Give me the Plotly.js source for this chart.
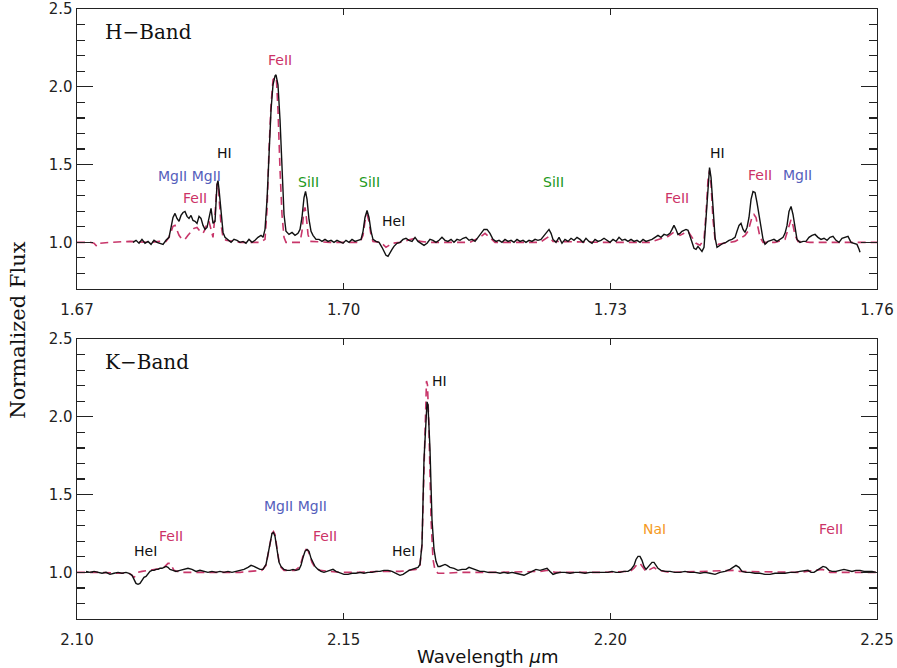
<!DOCTYPE html>
<html>
<head>
<meta charset="utf-8">
<script src="https://cdn.plot.ly/plotly-3.0.1.min.js"></script>
<style>html,body{margin:0;padding:0;background:#fff;} #chart{width:897px;height:668px;}</style>
</head>
<body>
<div id="chart"></div>
<script>
// ---------------- H-band observed spectrum ----------------
const hObsWave = [1.67630,1.67664,1.67698,1.67731,1.67765,1.67799,1.67833,1.67866,1.67900,1.67934,1.67968,1.68001,1.68035,1.68058,1.68080,1.68103,1.68125,1.68148,1.68170,1.68193,1.68215,1.68238,1.68260,1.68283,1.68305,1.68328,1.68350,1.68373,1.68395,1.68418,1.68440,1.68463,1.68485,1.68508,1.68530,1.68553,1.68575,1.68586,1.68598,1.68620,1.68643,1.68665,1.68699,1.68733,1.68766,1.68800,1.68834,1.68868,1.68901,1.68935,1.68969,1.69003,1.69036,1.69070,1.69093,1.69115,1.69138,1.69160,1.69183,1.69205,1.69228,1.69239,1.69261,1.69284,1.69306,1.69329,1.69351,1.69385,1.69419,1.69453,1.69486,1.69509,1.69531,1.69554,1.69571,1.69588,1.69610,1.69633,1.69655,1.69689,1.69723,1.69756,1.69790,1.69824,1.69858,1.69891,1.69925,1.69959,1.69993,1.70026,1.70060,1.70094,1.70128,1.70161,1.70195,1.70218,1.70240,1.70263,1.70285,1.70308,1.70330,1.70364,1.70398,1.70431,1.70454,1.70476,1.70499,1.70521,1.70544,1.70566,1.70600,1.70634,1.70668,1.70701,1.70735,1.70769,1.70803,1.70836,1.70870,1.70904,1.70938,1.70971,1.71005,1.71039,1.71073,1.71106,1.71140,1.71174,1.71208,1.71241,1.71275,1.71309,1.71343,1.71376,1.71410,1.71444,1.71478,1.71511,1.71545,1.71579,1.71613,1.71646,1.71680,1.71714,1.71748,1.71781,1.71815,1.71849,1.71883,1.71916,1.71950,1.71984,1.72018,1.72051,1.72085,1.72119,1.72153,1.72186,1.72220,1.72254,1.72288,1.72310,1.72333,1.72355,1.72389,1.72423,1.72456,1.72490,1.72524,1.72558,1.72591,1.72625,1.72659,1.72693,1.72726,1.72760,1.72794,1.72828,1.72861,1.72895,1.72929,1.72963,1.72996,1.73030,1.73064,1.73098,1.73131,1.73165,1.73199,1.73233,1.73266,1.73300,1.73334,1.73368,1.73401,1.73435,1.73469,1.73503,1.73536,1.73570,1.73604,1.73638,1.73671,1.73694,1.73716,1.73739,1.73761,1.73784,1.73806,1.73829,1.73851,1.73874,1.73896,1.73919,1.73941,1.73964,1.73986,1.74009,1.74031,1.74054,1.74076,1.74099,1.74116,1.74133,1.74155,1.74178,1.74200,1.74234,1.74268,1.74301,1.74335,1.74369,1.74403,1.74425,1.74448,1.74470,1.74493,1.74515,1.74538,1.74560,1.74583,1.74605,1.74628,1.74650,1.74673,1.74695,1.74718,1.74740,1.74774,1.74808,1.74841,1.74875,1.74909,1.74943,1.74965,1.74988,1.75010,1.75033,1.75055,1.75078,1.75100,1.75134,1.75168,1.75201,1.75235,1.75269,1.75303,1.75336,1.75370,1.75404,1.75438,1.75471,1.75505,1.75539,1.75573,1.75606,1.75640,1.75674,1.75708,1.75741,1.75775,1.75798,1.75809];
const hObsFlux = [1.000,1.013,0.994,1.019,0.994,1.006,0.987,1.013,1.000,0.994,0.987,1.013,1.032,1.096,1.160,1.186,1.154,1.135,1.173,1.192,1.199,1.167,1.154,1.173,1.141,1.135,1.122,1.167,1.154,1.109,1.083,1.096,1.160,1.218,1.122,1.135,1.372,1.397,1.340,1.199,1.064,1.032,1.013,1.000,1.019,1.013,1.000,1.006,0.994,1.019,1.000,1.013,1.032,1.045,1.032,1.083,1.276,1.596,1.853,2.013,2.071,2.077,2.013,1.788,1.468,1.179,1.071,1.051,1.064,1.045,1.058,1.083,1.160,1.288,1.327,1.276,1.147,1.071,1.045,1.019,1.019,1.006,1.019,1.006,1.013,1.000,1.013,1.006,0.994,1.013,1.000,1.019,1.006,1.013,1.019,1.071,1.160,1.205,1.160,1.071,1.019,1.006,1.000,0.968,0.942,0.917,0.910,0.936,0.955,0.974,0.994,1.000,1.019,1.026,1.013,1.006,1.032,1.006,0.994,0.981,0.994,1.019,1.013,1.000,1.013,1.032,1.013,1.006,1.019,1.000,1.019,1.013,1.026,1.032,1.013,1.019,1.006,1.032,1.064,1.083,1.083,1.058,1.019,1.006,1.013,1.000,1.019,1.006,1.013,1.000,1.019,1.006,1.013,1.000,1.013,1.006,1.019,1.013,1.019,1.045,1.071,1.083,1.058,1.019,1.000,1.032,0.994,1.019,1.006,1.026,1.013,1.032,1.019,1.000,1.026,1.006,0.994,1.019,1.006,1.013,1.026,1.013,1.000,1.019,1.006,1.032,1.013,1.019,1.006,1.019,1.006,1.013,1.000,1.019,1.006,1.013,1.019,1.032,1.045,1.032,1.051,1.045,1.058,1.083,1.109,1.083,1.051,1.058,1.071,1.077,1.083,1.077,1.045,1.000,0.962,0.955,0.974,0.955,0.942,0.968,1.135,1.372,1.481,1.417,1.212,1.032,0.968,0.981,0.994,1.000,1.013,1.019,1.032,1.071,1.109,1.122,1.083,1.064,1.096,1.160,1.276,1.327,1.321,1.256,1.179,1.096,1.019,0.987,1.006,1.013,1.019,1.006,1.019,1.032,1.058,1.109,1.199,1.231,1.179,1.083,1.019,1.000,1.006,1.006,1.032,1.045,1.051,1.032,1.019,1.026,1.013,1.032,1.038,1.013,1.000,1.026,1.032,1.038,1.000,0.994,0.987,0.955,0.936];

// ---------------- H-band model spectrum ----------------
const hModWave = [1.67000,1.67146,1.67191,1.67225,1.67259,1.67371,1.67596,1.67821,1.67934,1.68001,1.68035,1.68058,1.68080,1.68103,1.68125,1.68148,1.68181,1.68215,1.68249,1.68283,1.68316,1.68350,1.68384,1.68418,1.68440,1.68463,1.68485,1.68508,1.68530,1.68553,1.68575,1.68586,1.68598,1.68620,1.68643,1.68676,1.68834,1.69059,1.69115,1.69138,1.69160,1.69183,1.69205,1.69228,1.69244,1.69261,1.69284,1.69306,1.69329,1.69351,1.69509,1.69531,1.69554,1.69565,1.69576,1.69599,1.69621,1.69846,1.70184,1.70218,1.70240,1.70263,1.70285,1.70308,1.70330,1.70409,1.70443,1.70476,1.70510,1.70544,1.70634,1.70746,1.70803,1.70859,1.70971,1.71421,1.71534,1.71590,1.71646,1.71703,1.72209,1.72265,1.72310,1.72355,1.72884,1.73446,1.73559,1.73649,1.73728,1.73784,1.73829,1.73874,1.73919,1.73964,1.74009,1.74054,1.74076,1.74099,1.74116,1.74133,1.74155,1.74178,1.74211,1.74290,1.74403,1.74481,1.74515,1.74549,1.74571,1.74594,1.74616,1.74639,1.74661,1.74684,1.74718,1.74853,1.74965,1.74999,1.75021,1.75033,1.75055,1.75078,1.75111,1.75246,1.76000];
const hModFlux = [1.000,1.000,0.994,0.974,0.994,1.000,1.006,1.000,1.006,1.006,1.032,1.071,1.103,1.109,1.083,1.045,1.019,1.019,1.045,1.071,1.090,1.096,1.071,1.058,1.083,1.122,1.135,1.083,1.032,1.179,1.372,1.385,1.308,1.115,1.032,1.013,1.000,1.000,1.019,1.212,1.596,1.885,2.045,2.064,2.045,1.853,1.468,1.179,1.032,1.000,1.000,1.071,1.212,1.224,1.186,1.051,1.006,1.000,1.000,1.045,1.135,1.179,1.135,1.045,1.006,1.000,0.987,0.968,0.981,0.994,1.000,1.019,1.026,1.006,1.000,1.000,1.032,1.058,1.032,1.000,1.000,1.019,1.038,1.006,1.000,1.000,1.019,1.038,1.071,1.045,1.058,1.071,1.032,0.994,0.981,1.019,1.179,1.404,1.462,1.372,1.147,1.019,0.987,0.994,1.006,1.032,1.045,1.071,1.115,1.160,1.179,1.160,1.096,1.032,1.000,1.000,1.019,1.083,1.135,1.147,1.109,1.045,1.006,1.000,1.000];

// ---------------- K-band observed spectrum ----------------
const kObsWave = [2.10169,2.10244,2.10319,2.10394,2.10469,2.10544,2.10619,2.10694,2.10769,2.10844,2.10919,2.10975,2.11031,2.11069,2.11106,2.11144,2.11181,2.11219,2.11256,2.11294,2.11331,2.11369,2.11406,2.11444,2.11481,2.11519,2.11556,2.11594,2.11631,2.11669,2.11706,2.11744,2.11800,2.11856,2.11931,2.12006,2.12081,2.12156,2.12231,2.12306,2.12381,2.12456,2.12531,2.12606,2.12681,2.12756,2.12831,2.12906,2.12981,2.13056,2.13131,2.13206,2.13263,2.13319,2.13375,2.13431,2.13488,2.13544,2.13581,2.13619,2.13656,2.13684,2.13713,2.13750,2.13788,2.13825,2.13881,2.13938,2.13994,2.14050,2.14106,2.14163,2.14200,2.14238,2.14275,2.14313,2.14350,2.14388,2.14425,2.14463,2.14519,2.14575,2.14631,2.14688,2.14744,2.14800,2.14856,2.14931,2.15006,2.15081,2.15156,2.15231,2.15306,2.15381,2.15456,2.15531,2.15606,2.15681,2.15756,2.15831,2.15906,2.15981,2.16056,2.16113,2.16169,2.16225,2.16281,2.16338,2.16394,2.16431,2.16469,2.16506,2.16544,2.16563,2.16581,2.16619,2.16656,2.16694,2.16731,2.16769,2.16806,2.16863,2.16900,2.16938,2.16994,2.17069,2.17144,2.17219,2.17294,2.17350,2.17406,2.17481,2.17556,2.17631,2.17706,2.17781,2.17856,2.17931,2.18006,2.18081,2.18156,2.18231,2.18306,2.18381,2.18456,2.18531,2.18606,2.18681,2.18756,2.18813,2.18869,2.18925,2.18981,2.19056,2.19150,2.19244,2.19338,2.19431,2.19525,2.19619,2.19713,2.19806,2.19881,2.19956,2.20031,2.20106,2.20181,2.20256,2.20331,2.20388,2.20444,2.20481,2.20519,2.20556,2.20594,2.20631,2.20669,2.20706,2.20744,2.20781,2.20819,2.20856,2.20894,2.20950,2.21025,2.21119,2.21213,2.21306,2.21400,2.21494,2.21588,2.21681,2.21775,2.21869,2.21963,2.22056,2.22150,2.22244,2.22300,2.22356,2.22413,2.22469,2.22544,2.22619,2.22713,2.22806,2.22900,2.22994,2.23088,2.23181,2.23275,2.23369,2.23463,2.23556,2.23650,2.23706,2.23763,2.23819,2.23875,2.23931,2.23988,2.24044,2.24100,2.24156,2.24231,2.24306,2.24381,2.24456,2.24531,2.24606,2.24681,2.24756,2.24831,2.24906,2.24981];
const kObsFlux = [1.006,1.000,1.006,1.000,0.994,1.000,0.987,0.994,1.000,0.994,1.000,0.994,0.981,0.955,0.929,0.923,0.929,0.949,0.968,0.974,0.994,1.006,1.013,1.013,1.019,1.019,1.026,1.026,1.032,1.038,1.032,1.019,1.013,1.006,1.013,1.019,1.026,1.019,1.006,1.013,1.006,1.000,1.006,1.000,1.006,1.000,1.006,1.000,1.006,1.013,1.019,1.032,1.045,1.038,1.026,1.019,1.019,1.051,1.115,1.199,1.250,1.256,1.231,1.147,1.064,1.038,1.019,1.013,1.013,1.019,1.013,1.019,1.045,1.096,1.135,1.147,1.135,1.090,1.058,1.038,1.019,1.006,1.000,1.006,1.013,1.019,1.006,0.994,0.987,0.987,0.994,0.994,1.000,0.994,1.000,1.000,1.006,1.006,1.013,1.013,1.006,0.994,0.981,0.987,1.000,1.013,1.019,1.026,1.032,1.051,1.179,1.724,2.045,2.096,2.077,1.788,1.340,1.147,1.071,1.038,1.038,1.045,1.051,1.045,1.032,1.026,1.013,1.019,1.019,1.032,1.026,1.019,1.006,1.006,1.000,1.000,1.000,0.994,1.000,0.994,1.000,0.994,0.987,0.981,0.994,1.006,1.019,1.013,1.019,1.026,1.006,0.987,0.994,1.000,1.000,0.994,1.000,1.000,0.994,1.000,1.000,1.000,1.000,1.000,1.006,1.000,1.000,1.006,1.006,1.019,1.045,1.083,1.103,1.103,1.077,1.038,1.019,1.032,1.051,1.064,1.064,1.045,1.026,1.013,1.006,1.006,1.000,1.000,1.006,1.000,1.000,0.994,1.000,0.994,0.987,1.000,1.006,1.019,1.032,1.045,1.032,1.006,1.000,1.000,0.994,0.994,0.987,0.987,0.994,0.994,0.994,1.000,1.000,1.006,1.013,1.013,1.000,1.000,1.013,1.026,1.038,1.032,1.013,1.006,1.006,1.013,1.019,1.013,1.006,1.013,1.013,1.006,1.006,1.006,1.000];

// ---------------- K-band model spectrum ----------------
const kModWave = [2.10000,2.10431,2.10806,2.10956,2.11013,2.11069,2.11106,2.11144,2.11219,2.11369,2.11519,2.11613,2.11669,2.11706,2.11744,2.11781,2.11819,2.11931,2.12306,2.13056,2.13244,2.13469,2.13544,2.13581,2.13619,2.13656,2.13684,2.13713,2.13750,2.13788,2.13825,2.13881,2.14088,2.14181,2.14219,2.14256,2.14294,2.14331,2.14369,2.14406,2.14463,2.14556,2.14744,2.14931,2.15306,2.15681,2.16056,2.16244,2.16356,2.16431,2.16469,2.16506,2.16534,2.16553,2.16572,2.16600,2.16638,2.16675,2.16713,2.16769,2.16900,2.17181,2.17931,2.18681,2.18831,2.18963,2.19806,2.20369,2.20444,2.20500,2.20556,2.20613,2.20669,2.20744,2.20819,2.20894,2.21119,2.22338,2.22431,2.23556,2.23969,2.24044,2.24119,2.25000];
const kModFlux = [1.000,1.000,0.994,0.994,0.987,0.968,0.981,1.000,1.006,1.013,1.019,1.026,1.045,1.058,1.058,1.038,1.013,1.000,1.000,1.000,1.006,1.013,1.045,1.109,1.192,1.250,1.263,1.244,1.154,1.071,1.032,1.013,1.013,1.038,1.083,1.128,1.147,1.141,1.103,1.064,1.032,1.013,1.006,1.000,1.000,1.006,1.006,1.013,1.019,1.045,1.179,1.660,2.141,2.231,2.205,1.917,1.340,1.083,1.013,0.994,0.994,1.000,1.000,1.006,1.013,1.000,1.000,1.006,1.026,1.051,1.058,1.032,1.006,1.019,1.032,1.013,1.000,1.013,1.006,1.000,1.019,1.013,1.000,1.000];

// ---------------- Line identifications ----------------
const hLabelText = ["FeII","MgII MgII","FeII","HI","SiII","SiII","HeI","SiII","FeII","HI","FeII","MgII"];
const hLabelWave = [1.69284,1.68271,1.68328,1.68654,1.69599,1.70296,1.70555,1.72355,1.73750,1.74200,1.74684,1.75100];
const hLabelFlux = [2.173,1.429,1.282,1.577,1.385,1.385,1.135,1.385,1.282,1.577,1.436,1.436];
const hLabelIon  = ["Fe","Mg","Fe","H","Si","Si","He","Si","Fe","H","Fe","Mg"];

const kLabelText = ["HeI","FeII","MgII MgII","FeII","HeI","HI","NaI","FeII"];
const kLabelWave = [2.11275,2.11763,2.14088,2.14650,2.16113,2.16788,2.20819,2.24138];
const kLabelFlux = [1.135,1.231,1.429,1.231,1.135,2.231,1.282,1.282];
const kLabelIon  = ["He","Fe","Mg","Fe","He","H","Na","Fe"];

const hTicks = [1.67,1.70,1.73,1.76];
const kTicks = [2.10,2.15,2.20,2.25];
const yTicks = [1.0,1.5,2.0,2.5];

const ionColor = {Fe:"#cc3366", Mg:"#5560bc", Si:"#229922", H:"#111111", He:"#111111", Na:"#f59a24"};
const MODEL = "#c8366a";
const SANS = "DejaVu Sans, sans-serif";
const SERIF = "DejaVu Serif, serif";

const traces = [
  {x:hModWave, y:hModFlux, xaxis:"x", yaxis:"y", mode:"lines", line:{color:MODEL, width:1.6, dash:"8px,5px"}, hoverinfo:"skip"},
  {x:hObsWave, y:hObsFlux, xaxis:"x", yaxis:"y", mode:"lines", line:{color:"#111", width:1.4}, hoverinfo:"skip"},
  {x:kModWave, y:kModFlux, xaxis:"x2", yaxis:"y2", mode:"lines", line:{color:MODEL, width:1.6, dash:"8px,5px"}, hoverinfo:"skip"},
  {x:kObsWave, y:kObsFlux, xaxis:"x2", yaxis:"y2", mode:"lines", line:{color:"#111", width:1.4}, hoverinfo:"skip"}
];

const annotations = [];
hLabelText.forEach((t,i)=>annotations.push({x:hLabelWave[i], y:hLabelFlux[i], xref:"x", yref:"y", text:t, showarrow:false, xanchor:"center", yanchor:"middle", font:{family:SANS, size:14, color:ionColor[hLabelIon[i]]}}));
kLabelText.forEach((t,i)=>annotations.push({x:kLabelWave[i], y:kLabelFlux[i], xref:"x2", yref:"y2", text:t, showarrow:false, xanchor:"center", yanchor:"middle", font:{family:SANS, size:14, color:ionColor[kLabelIon[i]]}}));
annotations.push({x:0.0325, y:0.918, xref:"x domain", yref:"y domain", text:"H\u2212Band", showarrow:false, xanchor:"left", yanchor:"middle", font:{family:SERIF, size:20, color:"#111"}});
annotations.push({x:0.0325, y:0.919, xref:"x2 domain", yref:"y2 domain", text:"K\u2212Band", showarrow:false, xanchor:"left", yanchor:"middle", font:{family:SERIF, size:20, color:"#111"}});
annotations.push({x:-0.074, y:0.474, xref:"paper", yref:"paper", text:"Normalized Flux", textangle:-90, showarrow:false, xanchor:"center", yanchor:"middle", font:{family:SERIF, size:21, color:"#111"}});
annotations.push({x:0.514, y:-0.062, xref:"paper", yref:"paper", text:"Wavelength <i>\u03bc</i>m", showarrow:false, xanchor:"center", yanchor:"middle", font:{family:SANS, size:18, color:"#111"}});

const axCommon = {showgrid:false, zeroline:false, showline:true, linecolor:"#222", linewidth:1.4, mirror:"ticks", ticks:"inside", tickcolor:"#222", tickwidth:1.3, tickfont:{family:SANS, size:15, color:"#222"}};

const layout = {
  width:897, height:668,
  margin:{l:77, r:20, t:9, b:49},
  paper_bgcolor:"#fff", plot_bgcolor:"#fff",
  showlegend:false,
  xaxis: Object.assign({}, axCommon, {domain:[0,1], range:[1.67,1.76], anchor:"y", tickmode:"array", tickvals:hTicks, ticktext:hTicks.map(v=>v.toFixed(2)), ticklen:6, ticklabelstandoff:7}),
  yaxis: Object.assign({}, axCommon, {domain:[0.541,1], range:[0.7,2.5005], anchor:"x", tickmode:"array", tickvals:yTicks, ticktext:yTicks.map(v=>v.toFixed(1)), ticklen:16, minor:{ticks:"inside", ticklen:8, dtick:0.1, tick0:0.7, tickcolor:"#222", tickwidth:1.2}}),
  xaxis2: Object.assign({}, axCommon, {domain:[0,1], range:[2.10,2.25], anchor:"y2", tickmode:"array", tickvals:kTicks, ticktext:kTicks.map(v=>v.toFixed(2)), ticklen:6, ticklabelstandoff:7}),
  yaxis2: Object.assign({}, axCommon, {domain:[0,0.459], range:[0.7,2.5005], anchor:"x2", tickmode:"array", tickvals:yTicks, ticktext:yTicks.map(v=>v.toFixed(1)), ticklen:16, minor:{ticks:"inside", ticklen:8, dtick:0.1, tick0:0.7, tickcolor:"#222", tickwidth:1.2}}),
  annotations: annotations
};

Plotly.newPlot("chart", traces, layout, {displayModeBar:false, staticPlot:true});
</script>
</body>
</html>
